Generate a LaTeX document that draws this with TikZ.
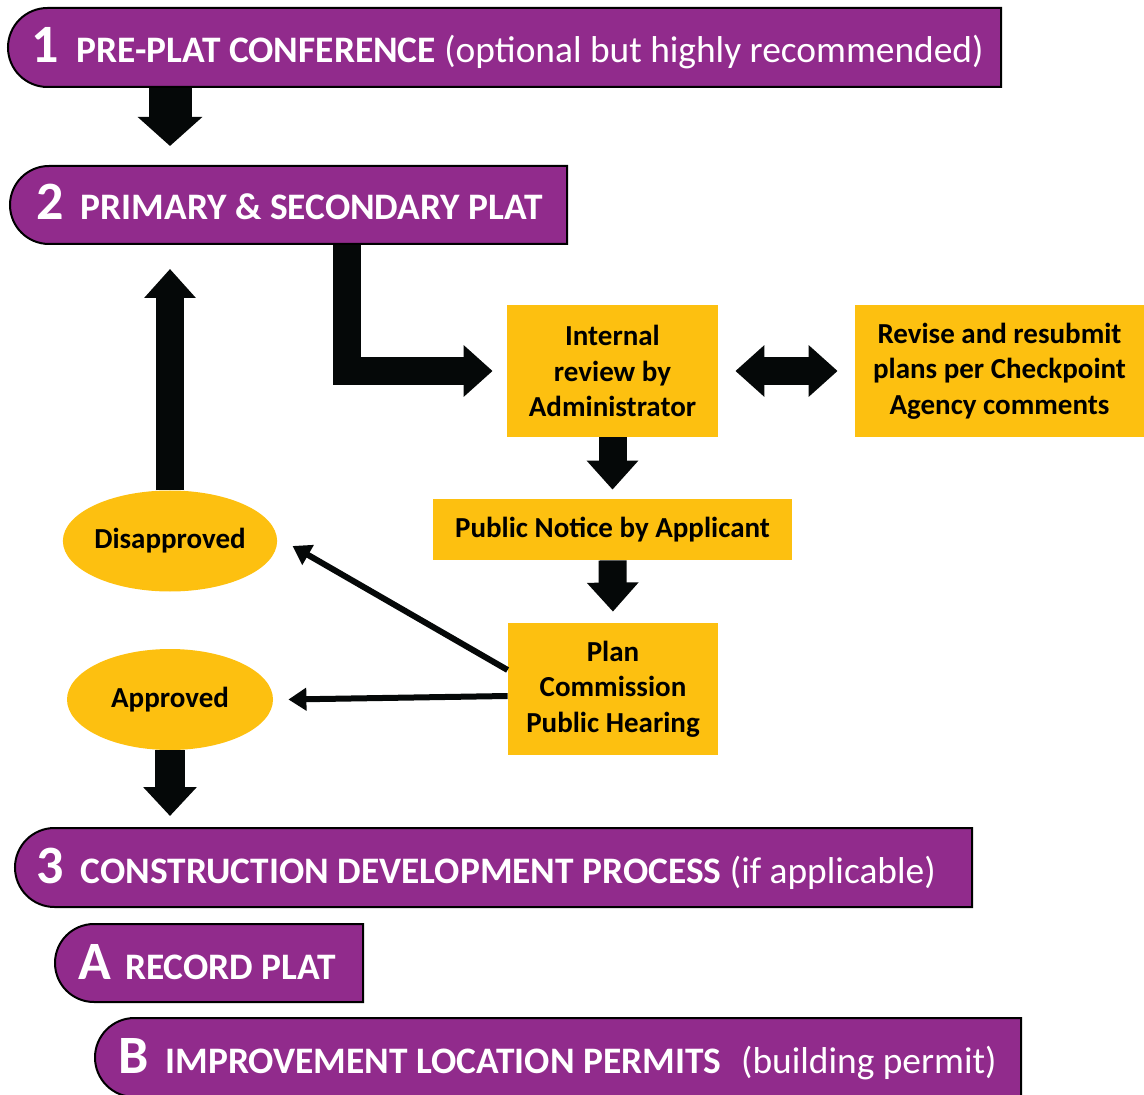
\documentclass[tikz,border=0pt]{standalone}
\usepackage{fontspec}
\setmainfont{Carlito}
\usetikzlibrary{arrows.meta}
\usetikzlibrary{shapes.geometric,shapes.misc}
\definecolor{platpurple}{RGB}{145,43,140}
\definecolor{platgold}{RGB}{253,192,16}
\definecolor{arrowblack}{RGB}{5,8,8}
\newcommand{\stepnum}[1]{{\fontsize{27}{27}\selectfont\bfseries #1}}
\tikzset{
 banner/.style={rounded rectangle, rounded rectangle right arc=none, draw=black, line width=1pt, fill=platpurple, inner sep=0pt},
 bannertext/.style={anchor=base west, inner sep=0pt, text=white, font=\fontsize{18.7}{22}\selectfont\bfseries},
 goldbox/.style={rectangle, fill=platgold, inner sep=0pt, align=center, font=\fontsize{14.5}{17.75}\selectfont\bfseries},
 goldoval/.style={ellipse, fill=platgold, inner sep=0pt, minimum width=103pt, minimum height=50.5pt, font=\fontsize{14.5}{17.75}\selectfont\bfseries},
 fatarrow/.style={draw=arrowblack, line width=14pt, -{Triangle[length=14.5pt,width=25pt]}},
 thinarrow/.style={draw=arrowblack, line width=3pt, -{Triangle[length=9pt,width=11pt]}},
}
\begin{document}
\begin{tikzpicture}[x=0.5pt,y=-0.5pt]
\useasboundingbox (0,0) rectangle (1144,1095);
% banners
\node[banner, minimum width=496.5pt, minimum height=39.5pt] (b1) at (504.5,47.5) {};
\node[banner, minimum width=278.5pt, minimum height=39pt] (b2) at (288.5,205) {};
\node[banner, minimum width=478.5pt, minimum height=39.5pt] (b3) at (493.5,867.5) {};
\node[banner, minimum width=154pt, minimum height=39pt] (ba) at (209,963) {};
\node[banner, minimum width=463pt, minimum height=39.5pt] (bb) at (558,1057.5) {};
\node[bannertext] (t1) at (31,63) {\stepnum{1}\hspace{9pt}PRE-PLAT CONFERENCE \textmd{(optional but highly recommended)}};
\node[bannertext] (t2) at (36,220) {\stepnum{2}\hspace{8.5pt}PRIMARY \& SECONDARY PLAT};
\node[bannertext] (t3) at (36,883) {\stepnum{3}\hspace{8.5pt}CONSTRUCTION DEVELOPMENT PROCESS \textmd{(if applicable)}};
\node[bannertext] (ta) at (78,979) {\stepnum{A}\hspace{7pt}RECORD PLAT};
\node[bannertext] (tb) at (118,1073) {\stepnum{B}\hspace{8.5pt}IMPROVEMENT LOCATION PERMITS\hspace{10pt}\textmd{(building permit)}};
% review steps
\node[goldbox, minimum width=105.5pt, minimum height=66pt] (review) at (612.5,371) {Internal\\review by\\Administrator};
\node[goldbox, minimum width=144.5pt, minimum height=66pt] (revise) at (999.5,371) {Revise and resubmit\\plans per Checkpoint\\Agency comments};
\node[goldbox, minimum width=179.5pt, minimum height=30.5pt] (notice) at (612.5,529.5) {Public Notice by Applicant};
\node[goldbox, minimum width=105pt, minimum height=66pt] (hearing) at (613,689) {Plan\\Commission\\Public Hearing};
\node[goldoval] (disapp) at (170,541) {Disapproved};
\node[goldoval] (app) at (170,699.5) {Approved};
% block arrows
\draw[fatarrow, line width=21.5pt, -{Triangle[length=14.5pt,width=31.5pt]}, shorten >=9.5pt] (disapp |- b1.south) -- (disapp |- b2.north);
\draw[fatarrow, shorten >=7pt] ([xshift=29.25pt]b2.south) |- (review.west);
\draw[fatarrow, shorten >=4.5pt] (review.south) -- (notice.north);
\draw[fatarrow, shorten >=5.5pt] (notice.south) -- (hearing.north);
\draw[fatarrow, {Triangle[length=14.5pt,width=25pt]}-{Triangle[length=14.5pt,width=25pt]}, shorten <=8.5pt, shorten >=8.5pt] (review.east) -- (revise.west);
\draw[fatarrow, shorten >=12pt] (disapp.north) -- (disapp |- b2.south);
\draw[fatarrow, line width=15pt, -{Triangle[length=14.5pt,width=26pt]}, shorten >=5.5pt] (app.south) -- (app |- b3.north);
% decisions
\draw[thinarrow] ([yshift=9.5pt]hearing.west) -- ([xshift=7.5pt,yshift=-2.5pt]disapp.east);
\draw[thinarrow] ([yshift=-3.5pt]hearing.west) -- ([xshift=7.5pt]app.east);
\end{tikzpicture}
\end{document}
